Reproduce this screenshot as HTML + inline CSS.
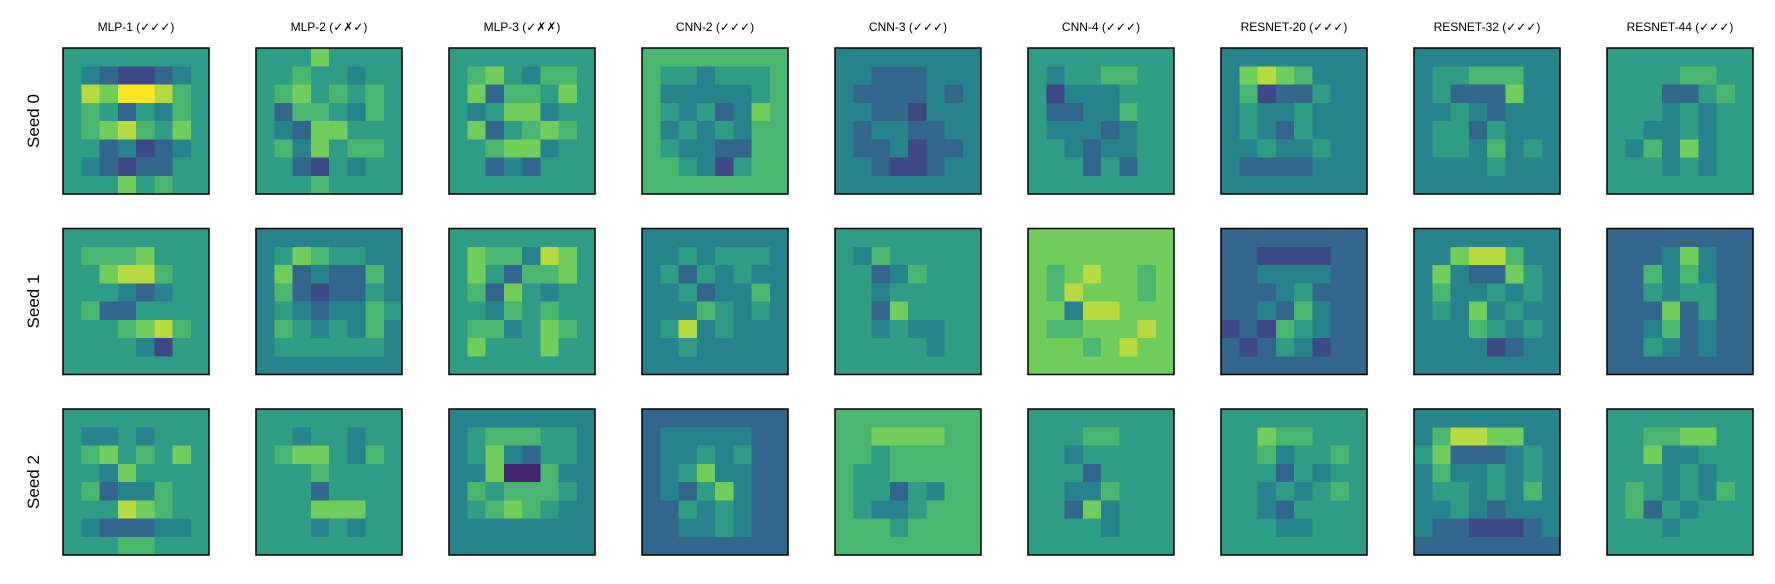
<!DOCTYPE html>
<html><head><meta charset="utf-8"><style>
body{margin:0;background:#fff;}
svg{display:block;font-family:"Liberation Sans","DejaVu Sans",sans-serif;}
</style></head><body>
<svg id="fig" width="1775" height="584"></svg>
<script>
const models=["MLP-1 (✓✓✓)","MLP-2 (✓✗✓)","MLP-3 (✓✗✗)","CNN-2 (✓✓✓)","CNN-3 (✓✓✓)","CNN-4 (✓✓✓)","RESNET-20 (✓✓✓)","RESNET-32 (✓✓✓)","RESNET-44 (✓✓✓)"];
const seeds=["Seed 0","Seed 1","Seed 2"];
// coarse 8x8 heat values per panel (0-9), rows = seeds, cols = models
const seed0Maps=[
["55555555","54322345","58799865","56535465","56786575","55342345","54323355","55575655"],
["55575555","55655455","56756565","53665465","54377555","56475665","55325455","55565555"],
["55555555","56754665","57366575","54577455","57356765","55677455","55343555","55555555"],
["66666666","65545556","64444456","65453476","64545466","65443366","66542566","66666666"],
["44444444","44333444","43333434","44332444","43443344","43342334","44322344","44444444"],
["55555555","54556655","52444555","53344655","54443455","55434455","55535355","55555555"],
["44444444","47876444","46233544","45445444","45435444","44544544","43333444","44444444"],
["44444444","45566644","45333744","44543444","45535444","45546454","44445444","44444444"],
["55555555","55556655","55533565","55545455","55445455","54647455","55545455","55555555"]];
const seed1Maps=[
["55555555","56667555","55788655","55543455","56335555","55567865","55554255","55555555"],
["44444444","45765544","47343364","46323354","45434465","46545464","45555554","44444444"],
["55555555","57664875","57536675","56375455","55465655","56645765","57555755","55555555"],
["44444444","44545554","45354544","44534464","44465454","45845444","44544444","44444444"],
["55555555","54655555","55346555","55455555","55375555","55454455","55555455","55555555"],
["77777777","77777777","76787767","76877767","77488777","76677787","77767877","77777777"],
["33333333","33222233","33444433","33345333","33436433","23265433","32354233","33333333"],
["44444444","44788644","47433754","46445454","45474544","44465454","44442344","44444444"],
["33333333","33347433","33646433","33545533","33373533","33463433","33543433","33333333"]];
const seed2Maps=[
["55555555","54454555","56756575","55475555","56344655","55587655","54333445","55566555"],
["55555555","55455455","56775465","55565555","55535555","55577755","55545455","55555555"],
["44444444","45666554","45743554","44711644","46566654","45676544","44444444","44444444"],
["33333333","34444433","34454533","34574433","34357433","33545433","33445433","33333333"],
["66666666","66777766","66566666","65566666","65535466","65445666","66656666","66666666"],
["55555555","55566555","55455555","55535555","55446555","55374555","55554555","55555555"],
["55555555","55766555","55645565","55535455","55454565","55435555","55544555","55555555"],
["44444444","46887744","57333454","46445454","45545464","44543444","43322234","33333333"],
["55555555","55667755","55744555","55545455","56545465","56354555","55545555","55555555"]];
const allMaps=[seed0Maps,seed1Maps,seed2Maps];

const NS="http://www.w3.org/2000/svg";
const svg=document.getElementById('fig');
const x0=63,dx=193,y0=48,dy=180.5,P=146;
const colX=c=>x0+c*dx, rowY=r=>y0+r*dy;
const stops=[[68,1,84],[59,82,139],[33,145,140],[94,201,98],[253,231,37]];
function viridis(t){t=Math.max(0,Math.min(1,t));const s=t*4,i=Math.min(3,Math.floor(s)),f=s-i;
 const a=stops[i],b=stops[i+1];return `rgb(${a.map((v,k)=>Math.round(v+(b[k]-v)*f)).join(',')})`;}
function mk(tag,attrs){const e=document.createElementNS(NS,tag);for(const k in attrs)e.setAttribute(k,attrs[k]);return e;}

models.forEach((m,c)=>{
 const t=mk('text',{x:colX(c)+P/2,y:31,'text-anchor':'middle','font-size':'12'});
 t.textContent=m;
 
 
 svg.appendChild(t);
});
seeds.forEach((s,r)=>{
 const cy=rowY(r)+P/2;
 const t=mk('text',{x:33,y:cy,'text-anchor':'middle','font-size':'17',transform:`rotate(-90 33 ${cy})`,dy:'6'});
 t.textContent=s;
 
 
 svg.appendChild(t);
});
allMaps.forEach((row,r)=>{
 row.forEach((grid,c)=>{
  const g=mk('g',{});
  
  
  const n=grid.length,cs=P/n;
  grid.forEach((line,i)=>{
   [...line].forEach((d,j)=>{
    const rc=mk('rect',{x:colX(c)+j*cs,y:rowY(r)+i*cs,width:cs+0.5,height:cs+0.5,fill:viridis(+d/9),'shape-rendering':'crispEdges'});
    
    
    g.appendChild(rc);
   });
  });
  const b=mk('rect',{x:colX(c),y:rowY(r),width:P,height:P,fill:'none',stroke:'#000','stroke-width':'1.5'});
  
  
  g.appendChild(b);
  svg.appendChild(g);
 });
});
</script>
</body></html>
